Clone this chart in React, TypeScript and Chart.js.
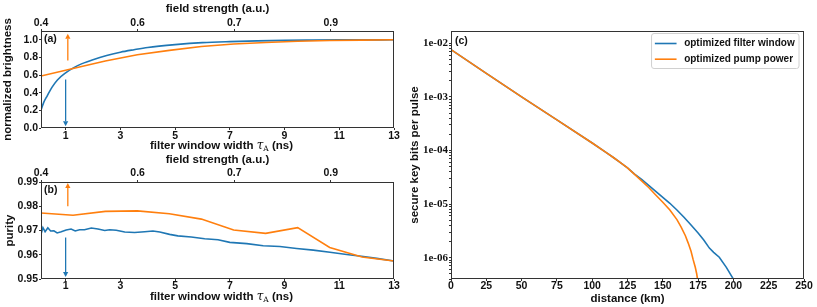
import React, { useEffect, useRef } from 'react';
import { Chart, registerables } from 'chart.js';
Chart.register(...registerables);

const SANS = "'Liberation Sans', Arial, sans-serif";
const SERIF = "'Liberation Serif', 'Times New Roman', serif";
const BLUE = '#1f77b4';
const ORANGE = '#ff7f0e';
const FRAME = '#333333';
const TEXT = '#111111';

// ---- panels (a) and (b): shared axes ----
const X_MIN = 0.1;
const X_MAX = 13;
const filterWidthTicks = [1, 3, 5, 7, 9, 11, 13];
const fieldTickPositions = [0.1, 3.63, 7.16, 10.69];
const fieldTickLabels = ['0.4', '0.6', '0.7', '0.9'];

// (a) normalized brightness
const brightnessTicks = [0, 0.2, 0.4, 0.6, 0.8, 1.0];
const brightFilterX = [0.1, 0.2, 0.3, 0.5, 0.7, 1.0, 1.3, 1.6, 2.0, 2.5, 3.0, 3.5, 4.0, 5.0, 6.0, 7.0, 8.0, 9.0, 10, 11, 12, 13];
const brightFilterY = [0.2, 0.29, 0.35, 0.46, 0.545, 0.625, 0.685, 0.73, 0.775, 0.822, 0.86, 0.888, 0.913, 0.945, 0.968, 0.98, 0.988, 0.994, 0.997, 0.999, 0.9995, 1.0];
const pumpX = [0.1, 1.27, 2.45, 3.62, 4.79, 5.96, 7.14, 8.31, 9.48, 10.65, 11.83, 13.0];
const brightPumpY = [0.59, 0.675, 0.76, 0.83, 0.88, 0.925, 0.952, 0.97, 0.984, 0.992, 0.997, 1.0];

// (b) purity
const purityTicks = [0.95, 0.96, 0.97, 0.98, 0.99];
const purityFilterX = [0.1, 0.17, 0.25, 0.35, 0.45, 0.57, 0.69, 0.84, 1.02, 1.2, 1.35, 1.51, 1.69, 1.94, 2.18, 2.43, 2.61, 2.85, 3.16, 3.52, 3.89, 4.19, 4.44, 4.8, 5.1, 5.59, 6.08, 6.57, 7.0, 7.62, 8.22, 8.83, 9.44, 10.05, 10.66, 11.27, 11.88, 12.37, 13.0];
const purityFilterY = [0.9684, 0.9712, 0.9695, 0.9711, 0.9698, 0.9699, 0.969, 0.9695, 0.9702, 0.9706, 0.9698, 0.9703, 0.9703, 0.971, 0.9706, 0.97, 0.9703, 0.9701, 0.9694, 0.9692, 0.9695, 0.9698, 0.9694, 0.9684, 0.9678, 0.9673, 0.9666, 0.9662, 0.9651, 0.9646, 0.9637, 0.9634, 0.9626, 0.9619, 0.961, 0.9601, 0.9593, 0.9585, 0.9574];
const purityPumpY = [0.9772, 0.9763, 0.9779, 0.9781, 0.9769, 0.9747, 0.9702, 0.9688, 0.9712, 0.963, 0.9591, 0.9574];

// arrows (annotations)
const arrowsA = [
  { x: 1.08, from: 0.766, to: 1.068, color: ORANGE },
  { x: 1.0, from: 0.55, to: 0.02, color: BLUE },
];
const arrowsB = [
  { x: 1.08, from: 0.98, to: 0.9896, color: ORANGE },
  { x: 1.0, from: 0.9671, to: 0.9508, color: BLUE },
];

// ---- panel (c): secure key rate ----
const distanceTicks = [0, 25, 50, 75, 100, 125, 150, 175, 200, 225, 250];
const distFilterKm = [0, 25, 50, 75, 100, 110, 115, 120, 125, 130, 135, 140, 145, 150, 155, 160, 165, 170, 175, 179, 183, 186, 190, 195, 200];
const keyFilter = [7.64e-3, 2.75e-3, 1.0e-3, 3.72e-4, 1.38e-4, 9.12e-5, 7.41e-5, 5.96e-5, 4.73e-5, 3.63e-5, 2.88e-5, 2.24e-5, 1.72e-5, 1.33e-5, 1.035e-5, 7.76e-6, 5.69e-6, 4.07e-6, 2.88e-6, 2.14e-6, 1.51e-6, 1.26e-6, 1.02e-6, 6.61e-7, 3.98e-7];
const distPumpKm = [0, 25, 50, 75, 100, 110, 115, 120, 125, 130, 135, 140, 145, 150, 155, 160, 163, 166, 168, 170, 171.5, 173, 174, 174.6, 175];
const keyPump = [7.64e-3, 2.75e-3, 1.0e-3, 3.72e-4, 1.38e-4, 9.12e-5, 7.41e-5, 5.96e-5, 4.73e-5, 3.59e-5, 2.72e-5, 2.04e-5, 1.48e-5, 1.08e-5, 7.76e-6, 5.13e-6, 3.72e-6, 2.57e-6, 1.87e-6, 1.32e-6, 9.18e-7, 6.61e-7, 5.01e-7, 3.98e-7, 1e-8];
const legendLabels = ['optimized filter window', 'optimized pump power'];
const legendColors = [BLUE, ORANGE];

// ---------------------------------------------------------------
const tickFont = { family: SANS, size: 10.5, weight: 'bold' as const, lineHeight: 1 };
const titleFont = { family: SANS, size: 11.5, weight: 'bold' as const, lineHeight: 1 };

const fixedTicks = (values: number[]) => (scale: any) => {
  scale.ticks = values.map((v) => ({ value: v }));
};

const gridOpts = { display: true, drawOnChartArea: false, drawTicks: true, tickLength: 2, color: FRAME, tickColor: FRAME };

// order: lower value is drawn on top (orange above blue, as in the reference)
function series(xs: number[], ys: number[], color: string, order: number) {
  return {
    data: xs.map((x, i) => ({ x, y: ys[i] })),
    borderColor: color,
    backgroundColor: color,
    borderWidth: 1.6,
    pointRadius: 0,
    fill: false,
    tension: 0,
    order,
  };
}

function drawArrow(ctx: CanvasRenderingContext2D, x: number, y0: number, y1: number, color: string) {
  const dir = Math.sign(y1 - y0);
  const head = 5;
  const hw = 2.6;
  ctx.strokeStyle = color;
  ctx.fillStyle = color;
  ctx.lineWidth = 1.3;
  ctx.beginPath();
  ctx.moveTo(x, y0);
  ctx.lineTo(x, y1 - dir * head);
  ctx.stroke();
  ctx.beginPath();
  ctx.moveTo(x, y1);
  ctx.lineTo(x - hw, y1 - dir * head);
  ctx.lineTo(x + hw, y1 - dir * head);
  ctx.closePath();
  ctx.fill();
}

function drawTauTitle(ctx: CanvasRenderingContext2D, cx: number, cy: number) {
  const p1 = 'filter window width ';
  const p2 = '\u03c4';
  const p3 = 'A';
  const p4 = ' (ns)';
  const f1 = `bold 11.5px ${SANS}`;
  const f2 = `italic 12px 'DejaVu Serif', serif`;
  const f3 = `7.5px 'DejaVu Serif', serif`;
  ctx.font = f1;
  const w1 = ctx.measureText(p1).width;
  const w4 = ctx.measureText(p4).width;
  ctx.font = f2;
  const w2 = ctx.measureText(p2).width;
  ctx.font = f3;
  const w3 = ctx.measureText(p3).width;
  let x = cx - (w1 + w2 + w3 + w4) / 2;
  ctx.fillStyle = TEXT;
  ctx.textBaseline = 'alphabetic';
  ctx.textAlign = 'left';
  const base = cy + 4;
  ctx.font = f1; ctx.fillText(p1, x, base); x += w1;
  ctx.font = f2; ctx.fillText(p2, x, base); x += w2;
  ctx.font = f3; ctx.fillText(p3, x, base + 2); x += w3;
  ctx.font = f1; ctx.fillText(p4, x, base);
}

function overlayAB(label: string, arrows: typeof arrowsA, titleDy: number) {
  return {
    id: 'overlayAB',
    afterDraw(chart: any) {
      const { ctx, chartArea: ca, scales } = chart;
      ctx.save();
      ctx.strokeStyle = FRAME;
      ctx.lineWidth = 1;
      ctx.strokeRect(ca.left + 0.5, ca.top + 0.5, ca.right - ca.left - 1, ca.bottom - ca.top - 1);
      arrows.forEach((a) => {
        drawArrow(ctx, scales.x.getPixelForValue(a.x), scales.y.getPixelForValue(a.from), scales.y.getPixelForValue(a.to), a.color);
      });
      ctx.fillStyle = TEXT;
      ctx.font = `bold 10.5px ${SANS}`;
      ctx.textAlign = 'left';
      ctx.textBaseline = 'middle';
      ctx.fillText(label, ca.left + 3, ca.top + 8.5);
      drawTauTitle(ctx, (ca.left + ca.right) / 2 + 4, ca.bottom + titleDy);
      ctx.restore();
    },
  };
}

function buildAB(opts: {
  label: string; arrows: typeof arrowsA; yMin: number; yMax: number; yTicks: number[]; yDigits: number;
  yTitle: string; yTitlePad: number; datasets: any[]; topH: number; bottomH: number; topTickPad: number;
  bottomTickPad: number; topTitlePad: number; titleDy: number;
}) {
  return {
    type: 'line',
    data: { datasets: opts.datasets },
    options: {
      animation: false,
      responsive: false,
      devicePixelRatio: 1,
      layout: { padding: { left: 0, right: 16, top: 0, bottom: 0 } },
      plugins: { legend: { display: false }, tooltip: { enabled: false } },
      scales: {
        x: {
          type: 'linear', position: 'bottom', min: X_MIN, max: X_MAX,
          afterBuildTicks: fixedTicks(filterWidthTicks),
          afterFit: (s: any) => { s.height = opts.bottomH; },
          ticks: { font: tickFont, color: TEXT, padding: opts.bottomTickPad, maxRotation: 0, autoSkip: false, callback: (v: any) => String(v) },
          grid: gridOpts, border: { display: false },
        },
        x2: {
          type: 'linear', position: 'top', min: X_MIN, max: X_MAX,
          afterBuildTicks: fixedTicks(fieldTickPositions),
          afterFit: (s: any) => { s.height = opts.topH; },
          ticks: { font: tickFont, color: TEXT, padding: opts.topTickPad, maxRotation: 0, autoSkip: false, callback: (_v: any, i: number) => fieldTickLabels[i] },
          grid: gridOpts, border: { display: false },
          title: { display: true, text: 'field strength (a.u.)', font: titleFont, color: TEXT, padding: { top: opts.topTitlePad, bottom: 0 } },
        },
        y: {
          type: 'linear', position: 'left', min: opts.yMin, max: opts.yMax,
          afterBuildTicks: fixedTicks(opts.yTicks),
          afterFit: (s: any) => { s.width = 41; },
          ticks: { font: tickFont, color: TEXT, padding: 1, autoSkip: false, callback: (v: any) => Number(v).toFixed(opts.yDigits) },
          grid: gridOpts, border: { display: false },
          title: { display: true, text: opts.yTitle, font: titleFont, color: TEXT, padding: { top: opts.yTitlePad, bottom: 0 } },
        },
      },
    },
    plugins: [overlayAB(opts.label, opts.arrows, opts.titleDy)],
  };
}

const buildA = () =>
  buildAB({
    label: '(a)', arrows: arrowsA, yMin: 0, yMax: 1.1, yTicks: brightnessTicks, yDigits: 1,
    yTitle: 'normalized brightness', yTitlePad: 1.75,
    datasets: [
      { ...series(brightFilterX, brightFilterY, BLUE, 1), cubicInterpolationMode: 'monotone' },
      series(pumpX, brightPumpY, ORANGE, 0),
    ],
    topH: 31, bottomH: 24, topTickPad: 1, bottomTickPad: 1, topTitlePad: 3.5, titleDy: 17,
  });

const buildB = () =>
  buildAB({
    label: '(b)', arrows: arrowsB, yMin: 0.95, yMax: 0.99, yTicks: purityTicks, yDigits: 2,
    yTitle: 'purity', yTitlePad: 4.25,
    datasets: [series(purityFilterX, purityFilterY, BLUE, 1), series(pumpX, purityPumpY, ORANGE, 0)],
    topH: 32, bottomH: 28, topTickPad: 2, bottomTickPad: 0, topTitlePad: 3.75, titleDy: 16.5,
  });

const overlayC = {
  id: 'overlayC',
  afterDraw(chart: any) {
    const { ctx, chartArea: ca } = chart;
    ctx.save();
    ctx.strokeStyle = FRAME;
    ctx.lineWidth = 1;
    ctx.strokeRect(ca.left + 0.5, ca.top + 0.5, ca.right - ca.left - 1, ca.bottom - ca.top - 1);
    ctx.fillStyle = TEXT;
    ctx.font = `bold 10.5px ${SANS}`;
    ctx.textAlign = 'left';
    ctx.textBaseline = 'middle';
    ctx.fillText('(c)', ca.left + 4, ca.top + 10);

    // legend
    ctx.font = `bold 10px ${SANS}`;
    const tw = Math.max(...legendLabels.map((l) => ctx.measureText(l).width));
    const padL = 3.3, lineLen = 21.7, gap = 7.6, padR = 4.3;
    const w = padL + lineLen + gap + tw + padR;
    const h = 35;
    const x0 = ca.right - 5 - w;
    const y0 = ca.top + 2.5;
    ctx.beginPath();
    const r = 2.5;
    ctx.moveTo(x0 + r, y0);
    ctx.arcTo(x0 + w, y0, x0 + w, y0 + h, r);
    ctx.arcTo(x0 + w, y0 + h, x0, y0 + h, r);
    ctx.arcTo(x0, y0 + h, x0, y0, r);
    ctx.arcTo(x0, y0, x0 + w, y0, r);
    ctx.closePath();
    ctx.fillStyle = 'rgba(255,255,255,0.8)';
    ctx.fill();
    ctx.strokeStyle = '#d0d0d0';
    ctx.lineWidth = 1;
    ctx.stroke();
    legendLabels.forEach((l, i) => {
      const y = y0 + 10 + i * 15.7;
      ctx.strokeStyle = legendColors[i];
      ctx.lineWidth = 1.6;
      ctx.beginPath();
      ctx.moveTo(x0 + padL, y);
      ctx.lineTo(x0 + padL + lineLen, y);
      ctx.stroke();
      ctx.fillStyle = TEXT;
      ctx.fillText(l, x0 + padL + lineLen + gap, y);
    });
    ctx.restore();
  },
};

const logLabel = (v: number) => {
  const e = Math.floor(Math.log10(v) + 1e-9);
  const m = v / Math.pow(10, e);
  if (Math.abs(m - 1) > 1e-6) return '';
  return '1e' + (e < 0 ? '-' : '+') + String(Math.abs(e)).padStart(2, '0');
};

const buildC = () => ({
  type: 'line',
  data: {
    datasets: [
      series(distFilterKm, keyFilter, BLUE, 1),
      series(distPumpKm, keyPump, ORANGE, 0),
    ],
  },
  options: {
    animation: false,
    responsive: false,
    devicePixelRatio: 1,
    layout: { padding: { left: 0, right: 13, top: 31, bottom: 0 } },
    plugins: { legend: { display: false }, tooltip: { enabled: false } },
    scales: {
      x: {
        type: 'linear', position: 'bottom', min: 0, max: 250,
        afterBuildTicks: fixedTicks(distanceTicks),
        afterFit: (s: any) => { s.height = 28; },
        ticks: { font: tickFont, color: TEXT, padding: 0, maxRotation: 0, autoSkip: false, callback: (v: any) => String(v) },
        grid: gridOpts, border: { display: false },
        title: { display: true, text: 'distance (km)', font: titleFont, color: TEXT, padding: { top: 0, bottom: 2.25 } },
      },
      y: {
        type: 'logarithmic', position: 'left', min: 4e-7, max: 1.7e-2,
        afterBuildTicks: (scale: any) => {
          scale.ticks = scale.ticks.filter((t: any) => {
            const e = Math.floor(Math.log10(t.value) + 1e-9);
            const m = t.value / Math.pow(10, e);
            return Math.abs(m - Math.round(m)) < 1e-6 && t.value >= 4e-7 && t.value <= 1.7e-2;
          });
        },
        afterFit: (s: any) => { s.width = 41; },
        ticks: { font: { family: SERIF, size: 11, weight: 'bold', lineHeight: 1 }, color: TEXT, padding: 1, autoSkip: false, callback: (v: any) => logLabel(Number(v)) },
        grid: gridOpts, border: { display: false },
        title: { display: true, text: 'secure key bits per pulse', font: titleFont, color: TEXT, padding: { top: -1.25, bottom: 0 } },
      },
    },
  },
  plugins: [overlayC],
});

function ChartCanvas({ left, top, width, height, build }: { left: number; top: number; width: number; height: number; build: () => any }) {
  const ref = useRef<HTMLCanvasElement>(null);
  useEffect(() => {
    const chart = new Chart(ref.current as HTMLCanvasElement, build());
    return () => chart.destroy();
  }, []);
  return <canvas ref={ref} width={width} height={height} style={{ position: 'absolute', left, top, width, height }} />;
}

export default function App() {
  return (
    <div style={{ position: 'absolute', left: 0, top: 0, width: 817, height: 307, background: '#ffffff', overflow: 'hidden' }}>
      <ChartCanvas left={0} top={0} width={410} height={152} build={buildA} />
      <ChartCanvas left={0} top={150} width={410} height={157} build={buildB} />
      <ChartCanvas left={410} top={0} width={407} height={307} build={buildC} />
    </div>
  );
}
